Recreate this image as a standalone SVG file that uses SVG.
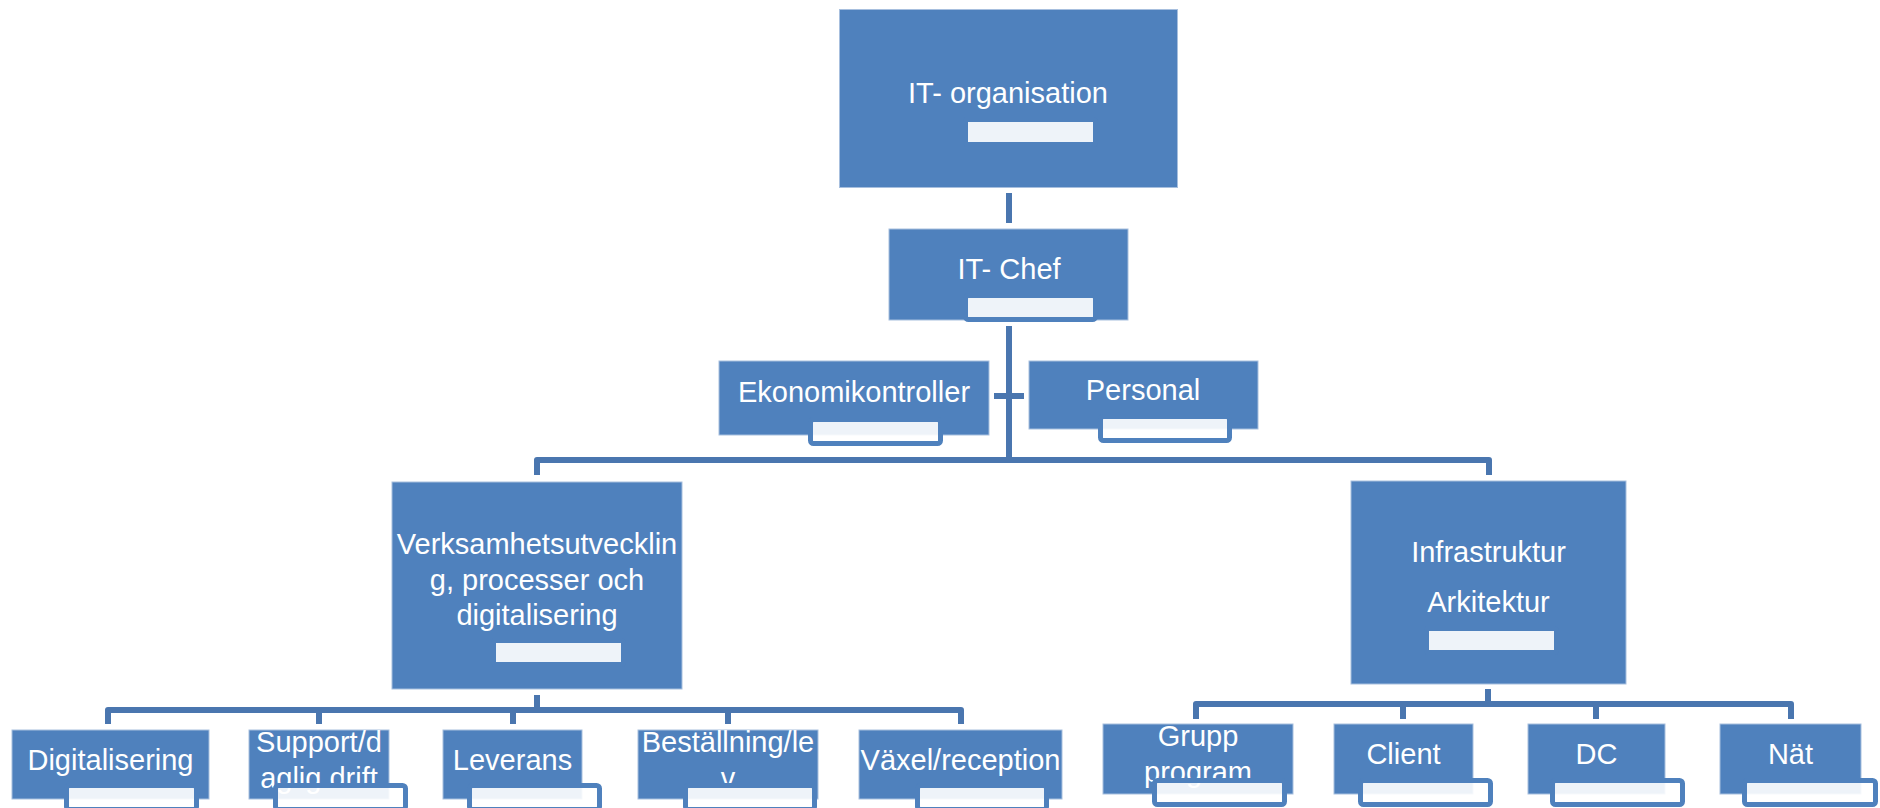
<svg xmlns="http://www.w3.org/2000/svg" width="1880" height="808" viewBox="0 0 1880 808">
  <style>
    .box { fill: #4F81BD; stroke: #A7BFDE; stroke-width: 1; }
    .lbl { font-family: "Liberation Sans", Arial, sans-serif; font-size: 29px; fill: #FFFFFF; text-anchor: middle; }
    .bar { fill: #FFFFFF; fill-opacity: 0.9; stroke: #4F81BD; stroke-width: 5; }
    .conn { fill: none; stroke: #4A76AF; stroke-width: 6; stroke-linejoin: round; }
  </style>
  <rect x="0" y="0" width="1880" height="808" fill="#FFFFFF"/>

  <g id="connectors">
    <path class="conn" d="M1009 193 V223"/>
    <path class="conn" d="M1009 326 V460"/>
    <path class="conn" d="M994 396 H1024"/>
    <path class="conn" d="M537 475 V460 H1489 V475"/>
    <path class="conn" d="M537 695 V710"/>
    <path class="conn" d="M108 724 V710 H961 V724"/>
    <path class="conn" d="M319 710 V724 M513 710 V724 M728 710 V724"/>
    <path class="conn" d="M1488 689 V704"/>
    <path class="conn" d="M1196 719 V704 H1791 V719"/>
    <path class="conn" d="M1403 704 V719 M1596 704 V719"/>
  </g>

  <g id="n_top">
    <rect class="box" x="839.5" y="9.5" width="338" height="178"/>
    <text class="lbl" x="1008" y="103">IT- organisation</text>
    <rect class="bar" x="965.5" y="119.5" width="130" height="25" rx="2"/>
  </g>

  <g id="n_chef">
    <rect class="box" x="889" y="229" width="239" height="91"/>
    <text class="lbl" x="1009" y="279">IT- Chef</text>
    <rect class="bar" x="965.5" y="295.5" width="130" height="24" rx="3"/>
  </g>

  <g id="n_eko">
    <rect class="box" x="719" y="361" width="270" height="74"/>
    <text class="lbl" x="854" y="402">Ekonomikontroller</text>
    <rect class="bar" x="810.5" y="419.5" width="130" height="24" rx="3"/>
  </g>

  <g id="n_pers">
    <rect class="box" x="1029" y="361" width="229" height="68"/>
    <text class="lbl" x="1143" y="400">Personal</text>
    <rect class="bar" x="1100.5" y="416.5" width="129" height="24" rx="3"/>
  </g>

  <g id="n_verk">
    <rect class="box" x="392" y="482" width="290" height="207"/>
    <text class="lbl" x="537" y="554">Verksamhetsutvecklin</text>
    <text class="lbl" x="537" y="590">g, processer och</text>
    <text class="lbl" x="537" y="625">digitalisering</text>
    <rect class="bar" x="493.5" y="640.5" width="130" height="24" rx="2"/>
  </g>

  <g id="n_infra">
    <rect class="box" x="1351" y="481" width="275" height="203"/>
    <text class="lbl" x="1488.5" y="562">Infrastruktur</text>
    <text class="lbl" x="1488.5" y="612">Arkitektur</text>
    <rect class="bar" x="1426.5" y="628.5" width="130" height="24" rx="2"/>
  </g>

  <g id="n_digi">
    <rect class="box" x="12" y="730" width="197" height="69"/>
    <text class="lbl" x="110.5" y="770">Digitalisering</text>
    <rect class="bar" x="66.5" y="785.5" width="130" height="24" rx="3"/>
  </g>

  <g id="n_supp">
    <rect class="box" x="249" y="730" width="140" height="69"/>
    <text class="lbl" x="319" y="752">Support/d</text>
    <text class="lbl" x="319" y="788">aglig drift</text>
    <rect class="bar" x="275.5" y="785.5" width="130" height="24" rx="3"/>
  </g>

  <g id="n_lev">
    <rect class="box" x="443" y="730" width="139" height="69"/>
    <text class="lbl" x="512.5" y="770">Leverans</text>
    <rect class="bar" x="469.5" y="785.5" width="130" height="24" rx="3"/>
  </g>

  <g id="n_best">
    <rect class="box" x="638" y="730" width="180" height="69"/>
    <text class="lbl" x="728" y="752">Beställning/le</text>
    <text class="lbl" x="728" y="788">v</text>
    <rect class="bar" x="685.5" y="785.5" width="129" height="24" rx="3"/>
  </g>

  <g id="n_vax">
    <rect class="box" x="859" y="730" width="203" height="69"/>
    <text class="lbl" x="960.5" y="770">Växel/reception</text>
    <rect class="bar" x="917.5" y="785.5" width="129" height="24" rx="3"/>
  </g>

  <g id="n_grupp">
    <rect class="box" x="1103" y="724" width="190" height="70"/>
    <text class="lbl" x="1198" y="746">Grupp</text>
    <text class="lbl" x="1198" y="782">program</text>
    <rect class="bar" x="1154.5" y="780.5" width="130" height="24" rx="3"/>
  </g>

  <g id="n_client">
    <rect class="box" x="1334" y="724" width="139" height="70"/>
    <text class="lbl" x="1403.5" y="764">Client</text>
    <rect class="bar" x="1360.5" y="780.5" width="130" height="24" rx="3"/>
  </g>

  <g id="n_dc">
    <rect class="box" x="1528" y="724" width="137" height="70"/>
    <text class="lbl" x="1596.5" y="764">DC</text>
    <rect class="bar" x="1552.5" y="780.5" width="130" height="24" rx="3"/>
  </g>

  <g id="n_nat">
    <rect class="box" x="1720" y="724" width="141" height="70"/>
    <text class="lbl" x="1790.5" y="764">Nät</text>
    <rect class="bar" x="1744.5" y="780.5" width="131" height="24" rx="3"/>
  </g>
</svg>
